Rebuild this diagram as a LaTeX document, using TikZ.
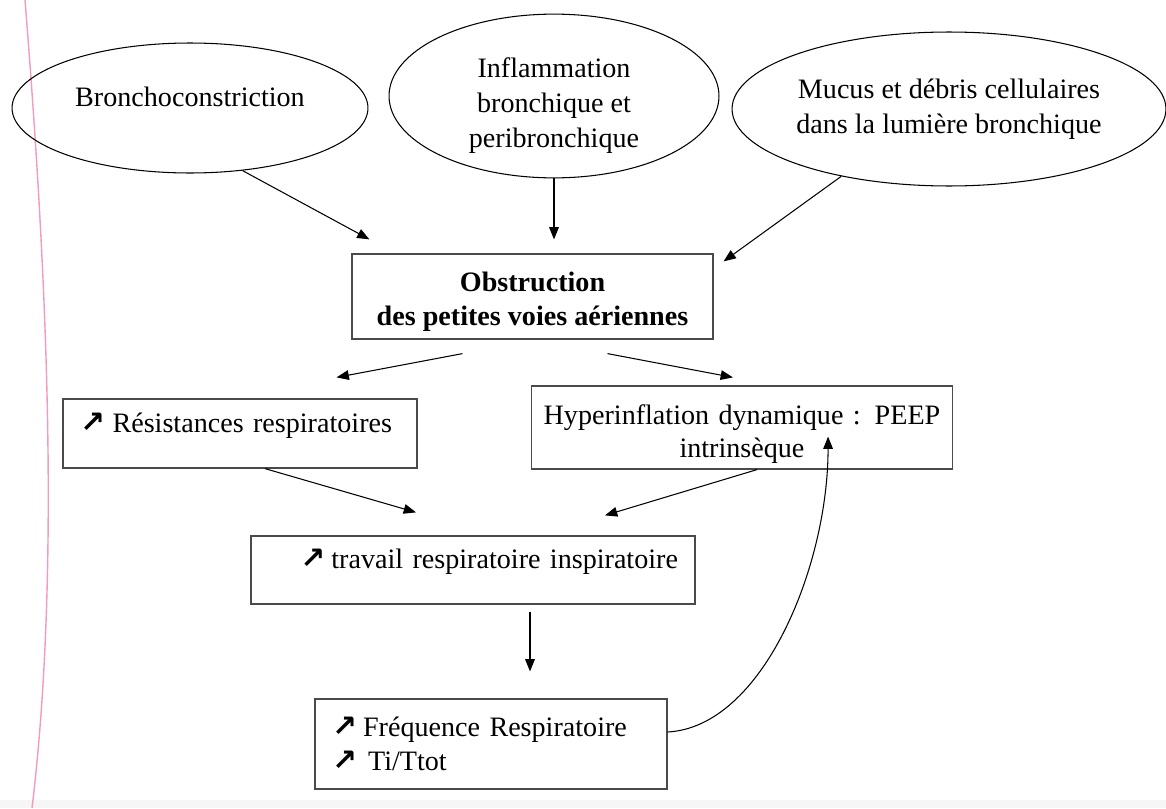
\documentclass[tikz,border=0pt]{standalone}
\usepackage{fontspec}
\setmainfont{Liberation Serif}
\newfontfamily\arrowfont{DejaVu Sans}
\usepackage{tikz}
\usetikzlibrary{calc, shapes.geometric, arrows.meta}
\definecolor{margin}{HTML}{F29BC1}
\definecolor{frame}{HTML}{4A4A4A}
\definecolor{band}{HTML}{F6F6F6}
\newcommand{\hausse}{{\arrowfont\bfseries\fontsize{17}{17}\selectfont ↗}}

\begin{document}
\begin{tikzpicture}[x=0.02cm, y=-0.02cm, font=\fontsize{16}{19}\selectfont,
  bubble/.style={draw, ellipse, line width=0.6pt, inner sep=0pt, align=center, font=\fontsize{16}{20}\selectfont},
  box/.style={draw=frame, line width=0.7pt, inner sep=0pt, inner xsep=0.34cm},
  onebox/.style={text height=11pt, text depth=12.5pt},
  arr/.style={-{Triangle[length=7pt,width=5.5pt]}, line width=0.6pt}]
\useasboundingbox (0,0) rectangle (1166,808);

% page margin and bottom band
\fill[band] (0,800) rectangle (1166,808);
\draw[margin, line width=0.8pt] (25,0) .. controls (45,250) and (62,560) .. (32,808);

% causes
\node[bubble, onebox, minimum width=7.12cm, minimum height=2.6cm] (bronch) at (190,108) {Bronchoconstriction};
\node[bubble, minimum width=6.6cm, minimum height=3.16cm] (inflam) at (554,96) {\rule{0pt}{22.5pt}Inflammation\\bronchique et\\peribronchique};
\node[bubble, minimum width=8.68cm, minimum height=3.08cm] (mucus) at (949,109) {Mucus et débris cellulaires\\dans la lumière bronchique};

% consequences
\node[box, minimum width=7.22cm, minimum height=1.7cm, align=center, font=\fontsize{16}{19}\selectfont\bfseries] (obst) at (532.5,296.5) {\rule{0pt}{17pt}Obstruction\\des petites voies aériennes};
\node[box, onebox, minimum width=7.08cm, minimum height=1.38cm, text width=6.4cm, align=left] (resist) at (240,433.5) {\hausse\hspace{0.15cm}Résistances respiratoires};
\node[box, minimum width=8.42cm, minimum height=1.66cm, inner xsep=0.2cm, text width=8.02cm, align=center] (hyper) at (742,427.5) {\rule{0pt}{18.5pt}Hyperinflation dynamique : PEEP\\intrinsèque};
\node[box, onebox, minimum width=8.88cm, minimum height=1.36cm, text width=8.2cm, align=right] (travail) at (473,570) {\hausse\hspace{0.12cm}travail respiratoire inspiratoire};
\node[box, minimum width=7.04cm, minimum height=1.8cm, text width=6.36cm, align=left] (freq) at (491,744) {\hausse\hspace{0.12cm}Fréquence Respiratoire\\\hausse\hspace{0.22cm}Ti/Ttot};

% arrows
\draw[arr] (bronch.-50) -- ($(obst.north west)+(18,-14)$);
\draw[arr] (inflam.south) -- ($(inflam.south |- obst.north)+(0,-14)$);
\draw[arr] (mucus.212) -- ($(obst.north east)+(10,8)$);
\draw[arr] ($(obst.south)+(-70,14)$) -- ($(resist.north east)+(-81,-21)$);
\draw[arr] ($(obst.south)+(75,14)$) -- ($(hyper.north west)+(202,-8)$);
\draw[arr] ($(resist.south)+(25,0)$) -- ($(travail.north)+(-57,-23)$);
\draw[arr] ($(hyper.south)+(15,0)$) -- ($(travail.north)+(132,-20)$);
\draw[arr] ($(travail.south)+(57,7)$) -- ($(freq.north)+(39,-27)$);

% feedback loop
\draw[arr] ($(freq.east)+(0,-12)$) .. controls +(95,-5) and +(0,130) .. ($(hyper.south east)+(-125,-33)$);

\end{tikzpicture}
\end{document}
